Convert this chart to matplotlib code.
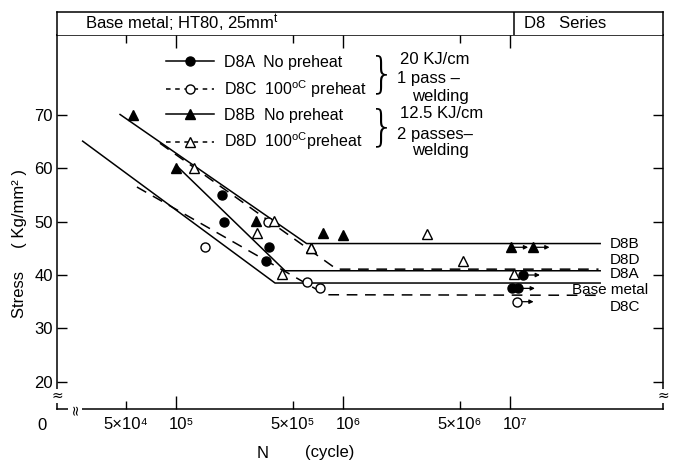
import numpy as np
import matplotlib
matplotlib.use("Agg")
import matplotlib.pyplot as plt
from matplotlib.lines import Line2D
from matplotlib.ticker import FixedLocator
import matplotlib.transforms as mtransforms

plt.rcParams['font.family'] = ['Liberation Sans', 'DejaVu Sans']
plt.rcParams['mathtext.fontset'] = 'custom'
plt.rcParams['mathtext.rm'] = 'Liberation Sans'
plt.rcParams['mathtext.it'] = 'Liberation Sans:italic'

# ---------------- data ----------------
# S-N lines (N, stress)
line_d8b_N = [10**4.665, 10**5.782, 10**7.54]
line_d8b_S = [70.1, 45.9, 45.9]
line_d8a_N = [10**5.01, 10**5.653, 10**7.54]
line_d8a_S = [60.3, 40.8, 40.8]
line_base_N = [10**4.441, 10**5.593, 10**7.54]
line_base_S = [65.1, 38.5, 38.5]
line_d8d_N = [10**4.904, 10**5.962, 10**7.53]
line_d8d_S = [64.7, 41.1, 41.1]
line_d8c_N = [10**4.766, 10**5.898, 10**7.53]
line_d8c_S = [56.5, 36.3, 36.2]

# test points (N, stress, runout flag)
d8a_N = [1.88e5, 1.94e5, 3.6e5, 3.46e5, 1.03e7, 1.12e7, 1.2e7]
d8a_S = [55.0, 50.0, 45.2, 42.6, 37.5, 37.5, 40.0]
d8a_run = [0, 0, 0, 0, 0, 1, 1]

d8c_N = [1.49e5, 3.54e5, 6.05e5, 7.3e5, 1.1e7]
d8c_S = [45.2, 50.0, 38.7, 37.5, 35.0]
d8c_run = [0, 0, 0, 0, 1]

d8b_N = [5.5e4, 1.0e5, 3.0e5, 6.43e5, 7.6e5, 1.0e6, 1.02e7, 1.37e7]
d8b_S = [70.0, 60.0, 50.1, 45.1, 47.8, 47.5, 45.2, 45.2]
d8b_run = [0, 0, 0, 0, 0, 0, 1, 1]

d8d_N = [1.28e5, 3.06e5, 3.87e5, 4.3e5, 6.43e5, 3.2e6, 5.25e6, 1.05e7]
d8d_S = [60.0, 47.8, 50.1, 40.2, 45.1, 47.6, 42.6, 40.2]
d8d_run = [0, 0, 0, 0, 0, 0, 0, 0]

major_ticks = [1e5, 1e6, 1e7]
major_labels = ['10⁵', '10⁶', '10⁷']
minor_ticks = [5e4, 5e5, 5e6]
minor_labels = ['5×10⁴', '5×10⁵', '5×10⁶']
y_ticks = [20, 30, 40, 50, 60, 70]

right_labels = ['D8B', 'D8D', 'D8A', 'Base metal', 'D8C']
right_label_N = [10**7.60, 10**7.60, 10**7.60, 10**7.372, 10**7.60]
right_label_S = [45.8, 42.9, 40.2, 37.1, 34.0]

# ---------------- layout ----------------
W, H = 675, 463
fig = plt.figure(figsize=(6.75, 4.63), dpi=100)
L, R, B, T, TT = 57, 663, 409, 35, 12
ax = fig.add_axes([L / W, (H - B) / H, (R - L) / W, (B - T) / H])
ax_t = fig.add_axes([L / W, (H - T) / H, (R - L) / W, (T - TT) / H])

def fx(px):
    return (px - L) / (R - L)

def fy(py):
    return (B - py) / (B - T)

ax.set_xscale('log')
ax.set_xlim(10**(5 + (L - 176) / 167), 10**(7 + (R - 510) / 167))
ax.set_ylim(70 - (B - 115) / 5.334, 70 + (115 - T) / 5.334)

lw = 1.1
ax.plot(line_d8b_N, line_d8b_S, color='black', lw=lw)
ax.plot(line_d8a_N, line_d8a_S, color='black', lw=lw)
ax.plot(line_base_N, line_base_S, color='black', lw=lw)
ax.plot(line_d8d_N, line_d8d_S, color='black', lw=lw, dashes=(7, 5))
ax.plot(line_d8c_N, line_d8c_S, color='black', lw=lw, dashes=(7, 5))

ms = 6.5
series = [
    (d8a_N, d8a_S, d8a_run, dict(marker='o', mfc='black', mec='black')),
    (d8c_N, d8c_S, d8c_run, dict(marker='o', mfc='white', mec='black')),
    (d8b_N, d8b_S, d8b_run, dict(marker='^', mfc='black', mec='black')),
    (d8d_N, d8d_S, d8d_run, dict(marker='^', mfc='white', mec='black')),
]
for N, S, run, st in series:
    ax.plot(N, S, ls='none', ms=ms, mew=1.0, zorder=4, **st)
    for n, s, r in zip(N, S, run):
        if r:
            ax.annotate('', xy=(n * 10**0.1, s), xytext=(n * 10**0.012, s),
                        arrowprops=dict(arrowstyle='-|>', lw=0.9, color='black',
                                        mutation_scale=6, shrinkA=0, shrinkB=0),
                        zorder=3)

for t, n, s in zip(right_labels, right_label_N, right_label_S):
    ax.text(n, s, t, fontsize=11, ha='left', va='center')

# ticks
ax.xaxis.set_major_locator(FixedLocator(major_ticks))
ax.xaxis.set_minor_locator(FixedLocator(minor_ticks))
ax.set_xticklabels(major_labels, fontsize=12)
ax.set_xticklabels(minor_labels, minor=True, fontsize=12)
ax.set_yticks(y_ticks)
ax.set_yticklabels([str(v) for v in y_ticks], fontsize=12)
ax.tick_params(axis='x', which='major', direction='in', length=9.5, width=1, top=True, pad=6)
ax.tick_params(axis='x', which='minor', direction='in', length=6, width=1, top=True, pad=6)
ax.tick_params(axis='y', which='major', direction='in', length=7.5, width=1, right=True, pad=3)
ax.tick_params(axis='y', which='minor', left=False, right=False)
offset = mtransforms.ScaledTranslation(5 / 100, 0, fig.dpi_scale_trans)
for lab in ax.get_xticklabels():
    lab.set_transform(lab.get_transform() + offset)
for s in ax.spines.values():
    s.set_linewidth(1.1)

# axis break marks and zero
ax.text(0, fy(396), '≈', transform=ax.transAxes, ha='center', va='center',
        fontsize=10, family='DejaVu Sans', bbox=dict(fc='white', ec='none', pad=0.3))
ax.text(1, fy(396), '≈', transform=ax.transAxes, ha='center', va='center',
        fontsize=10, family='DejaVu Sans', bbox=dict(fc='white', ec='none', pad=0.3))
ax.text(fx(75), 0, '≈', transform=ax.transAxes, ha='center', va='center', rotation=90,
        fontsize=10, family='DejaVu Sans', bbox=dict(fc='white', ec='none', pad=0.3))
ax.text(fx(42), fy(426), '0', transform=ax.transAxes, ha='center', va='center', fontsize=12)

ax.text(fx(20), fy(243), 'Stress     ( Kg/mm² )', transform=ax.transAxes, rotation=90,
        ha='center', va='center', fontsize=12)
ax.text(fx(263), fy(453), 'N', transform=ax.transAxes, ha='center', va='center', fontsize=12)
ax.text(fx(330), fy(453), '(cycle)', transform=ax.transAxes, ha='center', va='center', fontsize=12)

# legend
handles = [
    Line2D([], [], color='black', lw=lw, marker='o', mfc='black', mec='black', ms=ms),
    Line2D([], [], color='black', lw=lw, dashes=(3, 3), marker='o', mfc='white', mec='black', ms=ms),
    Line2D([], [], color='black', lw=lw, marker='^', mfc='black', mec='black', ms=ms),
    Line2D([], [], color='black', lw=lw, dashes=(3, 3), marker='^', mfc='white', mec='black', ms=ms),
]
labels = ['D8A  No preheat', 'D8C  100$^{\\rm oC}$ preheat',
          'D8B  No preheat', 'D8D  100$^{\\rm oC}$preheat']
ax.legend(handles, labels, loc='upper left', bbox_to_anchor=(fx(166), fy(55)),
          frameon=False, fontsize=11.5, handlelength=3.0, handletextpad=0.6,
          labelspacing=0.5, borderpad=0, borderaxespad=0)

ax.text(fx(382), fy(75), '}', transform=ax.transAxes, ha='center', va='center',
        fontsize=30, family='DejaVu Sans', fontweight='light')
ax.text(fx(382), fy(128), '}', transform=ax.transAxes, ha='center', va='center',
        fontsize=30, family='DejaVu Sans', fontweight='light')
side = [('20 KJ/cm', 400, 60), ('1 pass –', 397, 79), ('welding', 412, 96),
        ('12.5 KJ/cm', 400, 114), ('2 passes–', 397, 134), ('welding', 412, 150)]
for t, px, py in side:
    ax.text(fx(px), fy(py), t, transform=ax.transAxes, ha='left', va='center', fontsize=12)

# title row
ax_t.set_xticks([])
ax_t.set_yticks([])
ax_t.spines['bottom'].set_visible(False)
for s in ['left', 'top', 'right']:
    ax_t.spines[s].set_linewidth(1.1)
ax_t.axvline(fx(514), color='black', lw=1.1)
ax_t.text(fx(85), 0.5, 'Base metal; HT80, 25mm$^{\\rm t}$', ha='left', va='center', fontsize=12)
ax_t.text(fx(524), 0.5, 'D8   Series', ha='left', va='center', fontsize=12)

fig.savefig('out.png', dpi=100)
